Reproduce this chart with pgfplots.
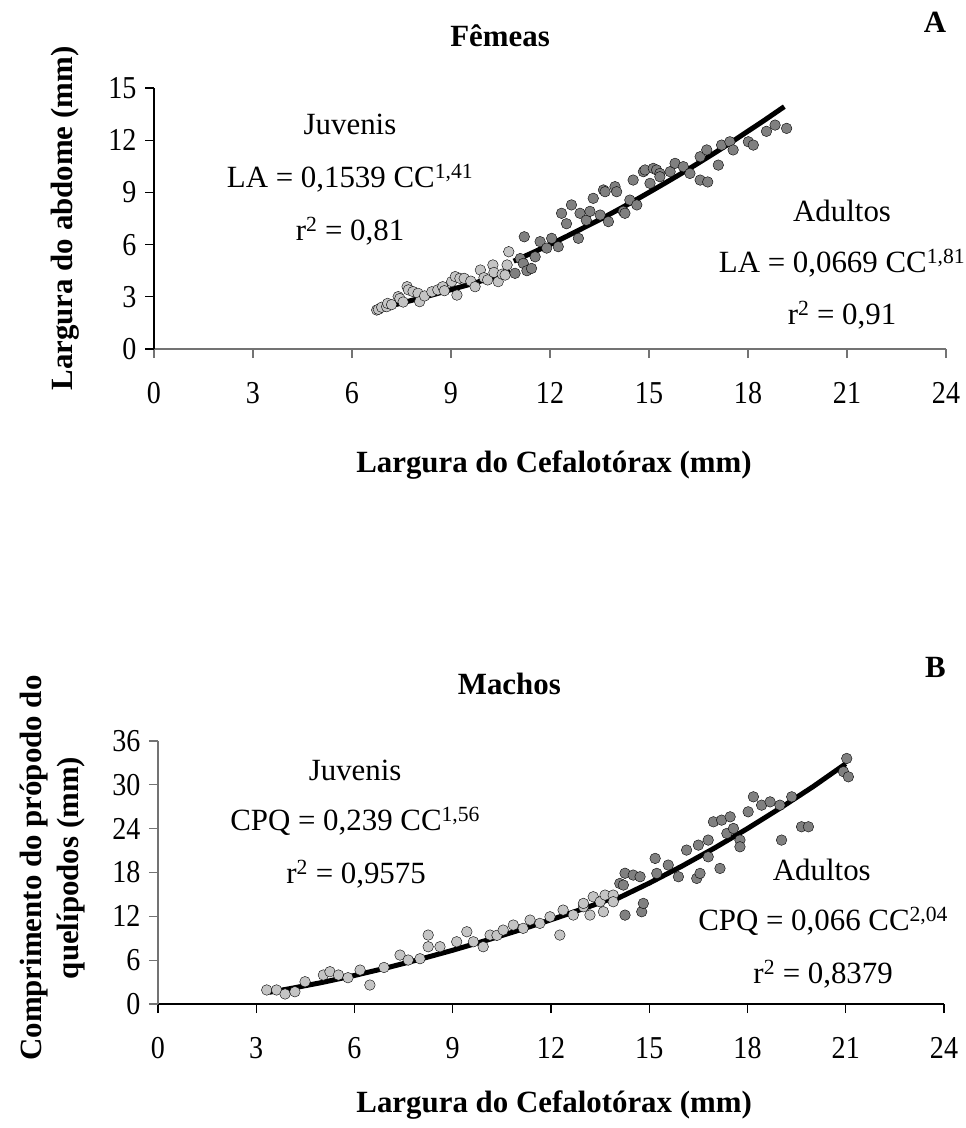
\documentclass[border=0pt]{standalone}
\usepackage{fontspec}
\setmainfont{Liberation Serif}
\newfontfamily\tickfont[FakeStretch=0.88]{Liberation Serif}
\usepackage{pgfplots}
\pgfplotsset{compat=1.18}

\definecolor{juv}{gray}{0.77}
\definecolor{adu}{gray}{0.50}

\pgfplotsset{
  panel/.style={
    scale only axis,
    axis x line*=bottom, axis y line*=left,
    tick align=outside,
    major tick length=9bp,
    xmin=0, xmax=24, xtick={0,3,...,24},
    /pgf/number format/assume math mode=true,
    tick label style={font=\fontsize{32}{36}\tickfont},
    xticklabel style={yshift=-21bp},
    yticklabel style={xshift=-5bp},
    label style={font=\fontsize{31}{37}\selectfont\bfseries},
    title style={font=\fontsize{31}{36}\selectfont\bfseries, anchor=center},
    clip=false,
  },
  juvpts/.style={only marks, mark=*, mark size=5.3bp, mark options={draw=none, fill=juv}},
  adupts/.style={only marks, mark=*, mark size=5.3bp, mark options={draw=none, fill=adu}},
  trend/.style={no marks, line width=5bp, black},
}
\tikzset{
  eq/.style={font=\fontsize{31}{36}\selectfont, anchor=base},
  letter/.style={font=\fontsize{31}{36}\selectfont\bfseries, anchor=center},
}

\begin{document}
\begin{tikzpicture}
\path[use as bounding box] (0,0) rectangle (966bp,-1128bp);

% ---------------- Panel A ----------------
\begin{axis}[panel,
  at={(154bp,-349bp)}, anchor=south west,
  width=792bp, height=261bp,
  ymin=0, ymax=15, ytick={0,3,...,15},
  x axis line style={draw=black!55, line width=1.2bp},
  y axis line style={draw=black, line width=1.2bp},
  x tick style={draw=black!55, line width=1.2bp},
  y tick style={draw=black, line width=1.2bp},
  title={Fêmeas},
  title style={at={(axis description cs:0.437,1.176)}},
  xlabel={Largura do Cefalotórax (mm)},
  xlabel style={at={(axis description cs:0.505,-0.444)}, anchor=center},
  ylabel={Largura do abdome (mm)},
  ylabel style={at={(axis description cs:-0.1124,0.5)}, anchor=center},
]
\addplot[juvpts] coordinates {
(6.75,2.24) (6.80,2.28) (6.90,2.40) (7.05,2.43) (7.08,2.62) (7.20,2.55)
(7.40,3.01) (7.45,2.90) (7.55,2.70) (7.67,3.58) (7.71,3.40) (7.85,3.30)
(8.00,3.20) (8.05,2.72) (8.20,3.05) (8.42,3.29) (8.60,3.40) (8.75,3.58)
(8.80,3.35) (9.02,3.87) (9.13,4.16) (9.18,3.10) (9.27,4.06) (9.40,4.06)
(9.60,3.90) (9.73,3.58) (9.89,4.54) (10.00,4.10) (10.11,3.97) (10.27,4.83)
(10.30,4.40) (10.43,3.87) (10.55,4.30) (10.70,4.83) (10.75,5.59) (10.64,4.25)
};
\addplot[adupts] coordinates {
(10.94,4.35) (11.10,5.20) (11.19,4.92) (11.22,6.45) (11.30,4.50) (11.44,4.63)
(11.55,5.30) (11.70,6.17) (11.90,5.80) (12.05,6.36) (12.25,5.88) (12.35,7.80)
(12.50,7.20) (12.65,8.28) (12.86,6.36) (12.91,7.80) (13.10,7.40) (13.21,7.91)
(13.31,8.66) (13.52,7.70) (13.62,9.14) (13.67,9.04) (13.77,7.32) (13.97,9.33)
(14.02,9.04) (14.22,7.91) (14.27,7.80) (14.42,8.56) (14.52,9.71) (14.63,8.28)
(14.83,10.19) (14.88,10.29) (15.03,9.52) (15.13,10.38) (15.23,10.29) (15.33,10.09)
(15.33,9.90) (15.64,10.19) (15.79,10.67) (16.04,10.48) (16.24,10.09) (16.55,11.05)
(16.55,9.71) (16.75,11.44) (16.78,9.60) (17.10,10.57) (17.20,11.72) (17.45,11.91)
(17.55,11.44) (18.01,11.91) (18.16,11.72) (18.56,12.51) (18.82,12.87) (19.17,12.68)
};
% fitted curves (values tabulated from the printed equations)
\addplot[trend] coordinates {
(6.8,2.30) (7.2,2.49) (7.6,2.69) (8.0,2.89) (8.4,3.09) (8.8,3.30)
(9.2,3.52) (9.6,3.73) (10.0,3.96) (10.4,4.18) (10.8,4.41)
};
\addplot[trend] coordinates {
(10.9,5.05) (11.5,5.56) (12.0,6.01) (12.5,6.47) (13.0,6.95) (13.5,7.43)
(14.0,7.94) (14.5,8.46) (15.0,9.00) (15.5,9.55) (16.0,10.11) (16.5,10.69)
(17.0,11.28) (17.5,11.89) (18.0,12.52) (18.5,13.15) (19.1,13.93)
};
\node[eq] at (axis cs:5.94,12.30) {Juvenis};
\node[eq] at (axis cs:5.94,9.31) {LA = 0,1539 CC\textsuperscript{1,41}};
\node[eq] at (axis cs:5.94,6.26) {r\textsuperscript{2} = 0,81};
\node[eq] at (axis cs:20.85,7.30) {Adultos};
\node[eq] at (axis cs:20.85,4.37) {LA = 0,0669 CC\textsuperscript{1,81}};
\node[eq] at (axis cs:20.85,1.38) {r\textsuperscript{2} = 0,91};
\node[letter] at (axis description cs:0.986,1.253) {A};
\end{axis}

% ---------------- Panel B ----------------
\begin{axis}[panel,
  at={(158bp,-1004bp)}, anchor=south west,
  width=786bp, height=263bp,
  ymin=0, ymax=36, ytick={0,6,...,36},
  x axis line style={draw=black, line width=1.2bp},
  y axis line style={draw=black!55, line width=1.2bp},
  x tick style={draw=black, line width=1.2bp},
  y tick style={draw=black!55, line width=1.2bp},
  title={Machos},
  title style={at={(axis description cs:0.447,1.194)}},
  xlabel={Largura do Cefalotórax (mm)},
  xlabel style={at={(axis description cs:0.504,-0.384)}, anchor=center},
  ylabel={Comprimento do própodo do\\quelípodos (mm)},
  ylabel style={at={(axis description cs:-0.134,0.517)}, anchor=center, align=center},
]
\addplot[juvpts] coordinates {
(3.32,1.92) (3.62,1.92) (3.88,1.37) (4.18,1.68) (4.49,3.05) (5.05,3.97)
(5.25,4.42) (5.51,3.97) (5.80,3.60) (6.17,4.65) (6.47,2.60) (6.90,5.00)
(7.39,6.70) (7.64,6.02) (8.00,6.20) (8.25,9.44) (8.25,7.84) (8.61,7.84)
(9.12,8.52) (9.43,9.89) (9.63,8.52) (9.93,7.84) (10.14,9.44) (10.35,9.40)
(10.54,10.12) (10.85,10.81) (11.15,10.36) (11.36,11.49) (11.66,11.04) (11.97,11.94)
(12.27,9.44) (12.37,12.86) (12.68,12.18) (12.99,13.31) (12.99,13.77) (13.19,12.18)
(13.29,14.68) (13.50,14.00) (13.60,12.63) (13.65,14.91) (13.90,14.91) (13.90,14.00)
};
\addplot[adupts] coordinates {
(14.10,16.50) (14.21,16.28) (14.26,12.17) (14.26,17.90) (14.51,17.65) (14.72,17.42)
(14.77,12.63) (14.82,13.77) (15.18,19.93) (15.23,17.88) (15.58,19.02) (15.89,17.42)
(16.14,21.07) (16.45,17.19) (16.50,21.75) (16.55,17.88) (16.80,22.44) (16.80,20.15)
(16.96,24.94) (17.16,18.56) (17.21,25.17) (17.37,23.35) (17.47,25.62) (17.57,24.03)
(17.77,22.44) (17.77,21.52) (18.02,26.31) (18.18,28.36) (18.43,27.22) (18.69,27.67)
(18.99,27.22) (19.04,22.44) (19.35,28.36) (19.65,24.26) (19.86,24.26) (20.93,31.80)
(21.03,33.61) (21.08,31.10)
};
\addplot[trend] coordinates {
(3.4,1.61) (4.0,2.08) (5.0,2.94) (6.0,3.91) (7.0,4.97) (8.0,6.13)
(9.0,7.36) (10.0,8.68) (11.0,10.07) (12.0,11.53) (13.0,13.07) (14.0,14.67)
};
\addplot[trend] coordinates {
(14.0,14.38) (15.0,16.55) (16.0,18.88) (17.0,21.37) (18.0,24.02)
(19.0,26.82) (20.0,29.75) (21.0,32.89)
};
\node[eq] at (axis cs:6.02,30.64) {Juvenis};
\node[eq] at (axis cs:6.02,23.80) {CPQ = 0,239 CC\textsuperscript{1,56}};
\node[eq] at (axis cs:6.05,16.55) {r\textsuperscript{2} = 0,9575};
\node[eq] at (axis cs:20.27,16.96) {Adultos};
\node[eq] at (axis cs:20.31,10.12) {CPQ = 0,066 CC\textsuperscript{2,04}};
\node[eq] at (axis cs:20.31,2.87) {r\textsuperscript{2} = 0,8379};
\node[letter] at (axis description cs:0.989,1.278) {B};
\end{axis}
\end{tikzpicture}
\end{document}
